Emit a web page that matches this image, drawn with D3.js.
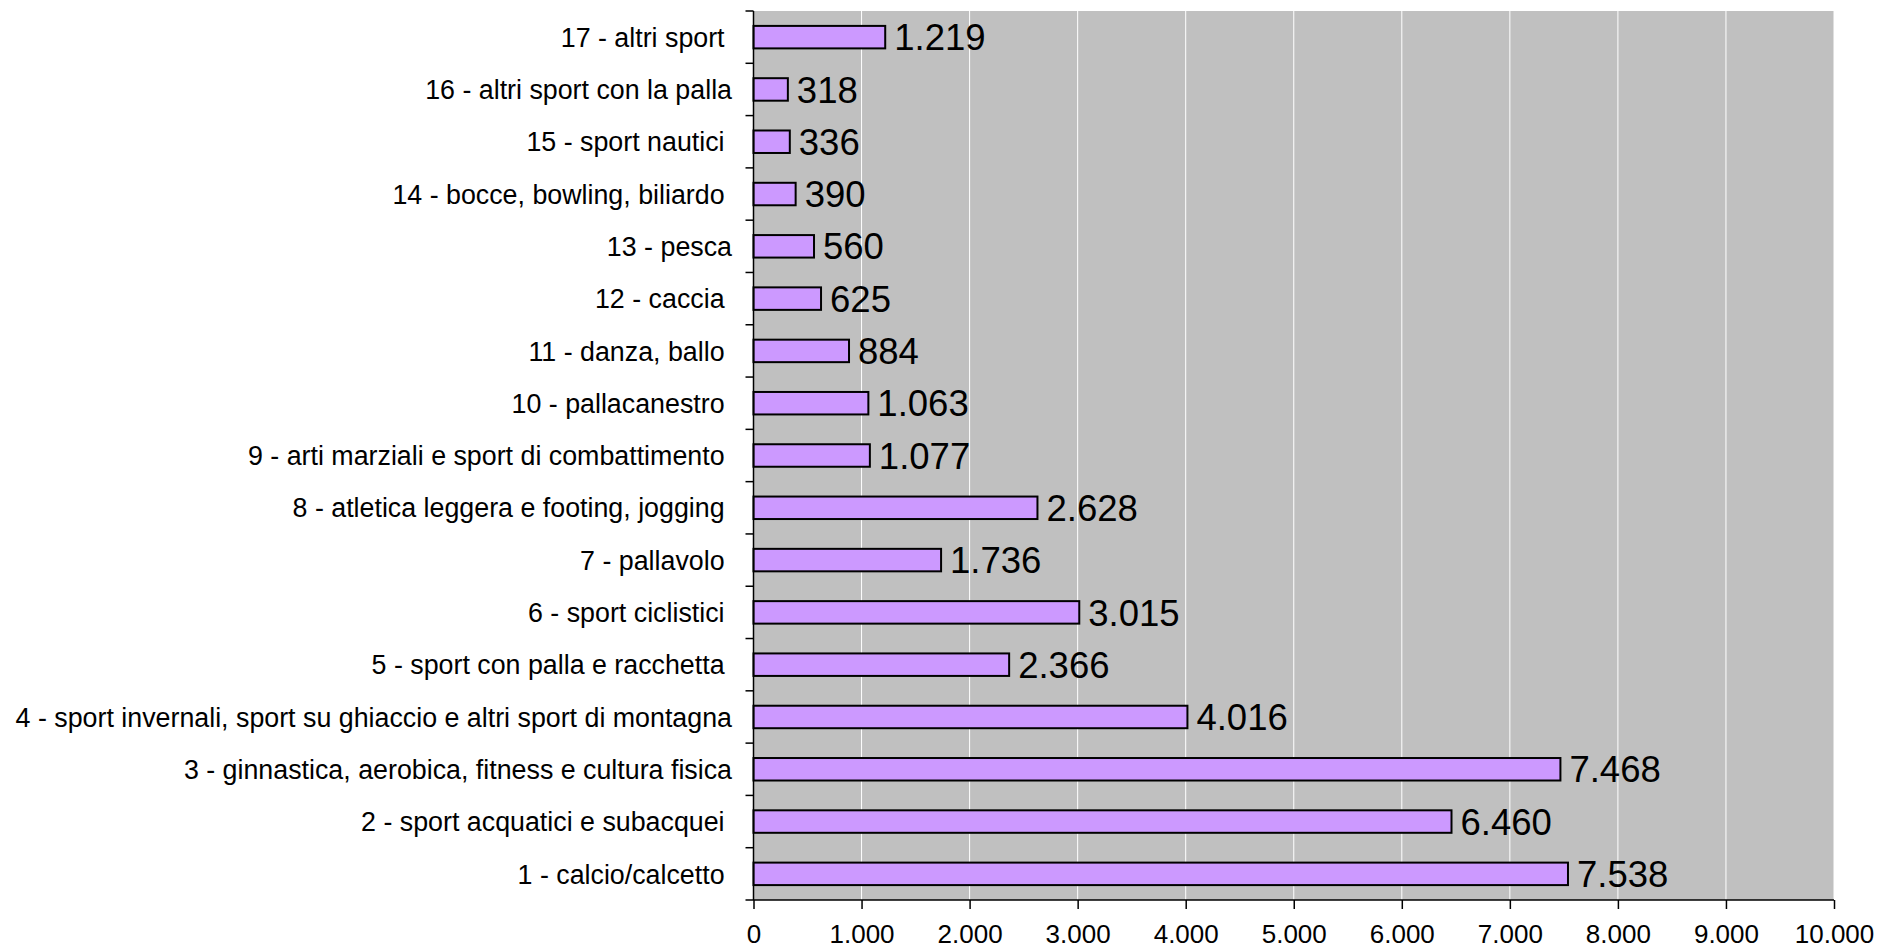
<!DOCTYPE html>
<html>
<head>
<meta charset="utf-8">
<script src="https://cdn.jsdelivr.net/npm/d3@7"></script>
<style>
  html, body { margin: 0; padding: 0; background: #ffffff; }
  svg { display: block; }
  text { font-family: "Liberation Sans", Arial, sans-serif; fill: #000; }
</style>
</head>
<body>
<svg id="chart" width="1878" height="951"></svg>
<script>
// Categories (top to bottom as shown in the chart)
const categories = [
  "17 - altri sport\u00A0",
  "16 - altri sport con la palla",
  "15 - sport nautici\u00A0",
  "14 - bocce, bowling, biliardo\u00A0",
  "13 - pesca",
  "12 - caccia\u00A0",
  "11 - danza, ballo\u00A0",
  "10 - pallacanestro\u00A0",
  "9 - arti marziali e sport di combattimento\u00A0",
  "8 - atletica leggera e footing, jogging\u00A0",
  "7 - pallavolo\u00A0",
  "6 - sport ciclistici\u00A0",
  "5 - sport con palla e racchetta\u00A0",
  "4 - sport invernali, sport su ghiaccio e altri sport di montagna",
  "3 - ginnastica, aerobica, fitness e cultura fisica",
  "2 - sport acquatici e subacquei\u00A0",
  "1 - calcio/calcetto\u00A0"
];
const values = [1219, 318, 336, 390, 560, 625, 884, 1063, 1077, 2628, 1736, 3015, 2366, 4016, 7468, 6460, 7538];
const xTicks = [0, 1000, 2000, 3000, 4000, 5000, 6000, 7000, 8000, 9000, 10000];

const locale = d3.formatLocale({decimal: ",", thousands: ".", grouping: [3], currency: ["€", ""]});
const fmt = locale.format(",d");

const svg = d3.select("#chart");
const plot = {left: 753.5, right: 1834, top: 11, bottom: 900};

const x = d3.scaleLinear().domain([0, 10000]).range([plot.left, plot.right]);
const y = d3.scaleBand().domain(categories).range([plot.top, plot.bottom]).paddingInner(0.57).paddingOuter(0.285);
const band = d3.scaleBand().domain(categories).range([plot.top, plot.bottom]);

// background
svg.append("rect")
  .attr("x", plot.left).attr("y", plot.top)
  .attr("width", plot.right - plot.left).attr("height", plot.bottom - plot.top)
  .attr("fill", "#c0c0c0");

// gridlines
svg.append("g").selectAll("line").data(xTicks.filter(d => d > 0))
  .join("line")
  .attr("x1", d => x(d)).attr("x2", d => x(d))
  .attr("y1", plot.top).attr("y2", plot.bottom)
  .attr("stroke", "#ffffff").attr("stroke-width", 1);

// bars
svg.append("g").selectAll("rect").data(categories)
  .join("rect")
  .attr("x", x(0))
  .attr("y", d => y(d))
  .attr("width", (d, i) => x(values[i]) - x(0))
  .attr("height", y.bandwidth())
  .attr("fill", "#cc99ff")
  .attr("stroke", "#000")
  .attr("stroke-width", 2);

// value labels
svg.append("g").selectAll("text").data(categories)
  .join("text")
  .attr("x", (d, i) => x(values[i]) + 9)
  .attr("y", d => band(d) + band.bandwidth() / 2)
  .attr("dy", "0.36em")
  .attr("font-size", 36.5)
  .text((d, i) => fmt(values[i]));

// x axis
const xAxis = d3.axisBottom(x).tickValues(xTicks).tickFormat(fmt).tickSize(9).tickSizeOuter(0);
const gx = svg.append("g").attr("transform", `translate(0,${plot.bottom})`).call(xAxis);
gx.select(".domain").remove();
gx.append("line").attr("x1", plot.left - 8).attr("x2", plot.right).attr("y1", 0).attr("y2", 0)
  .attr("stroke", "#000").attr("stroke-width", 1.5);
gx.selectAll(".tick line").attr("stroke", "#000").attr("stroke-width", 1.5);
gx.selectAll(".tick text").attr("font-size", 26).attr("font-family", "Liberation Sans, Arial, sans-serif")
  .attr("fill", "#000").attr("y", 25).attr("dy", "0.71em");

// y axis line + ticks at band boundaries
const gy = svg.append("g");
gy.append("line").attr("x1", plot.left).attr("x2", plot.left).attr("y1", plot.top).attr("y2", plot.bottom)
  .attr("stroke", "#000").attr("stroke-width", 1.5);
const boundaries = categories.map(c => band(c));
gy.selectAll("line.tk").data(boundaries)
  .join("line").attr("class", "tk")
  .attr("x1", plot.left - 8).attr("x2", plot.left)
  .attr("y1", d => d).attr("y2", d => d)
  .attr("stroke", "#000").attr("stroke-width", 1.5);

// category labels
gy.selectAll("text").data(categories)
  .join("text")
  .attr("x", 732)
  .attr("y", d => band(d) + band.bandwidth() / 2)
  .attr("dy", "0.36em")
  .attr("text-anchor", "end")
  .attr("font-size", 26.8)
  .text(d => d);
</script>
</body>
</html>
